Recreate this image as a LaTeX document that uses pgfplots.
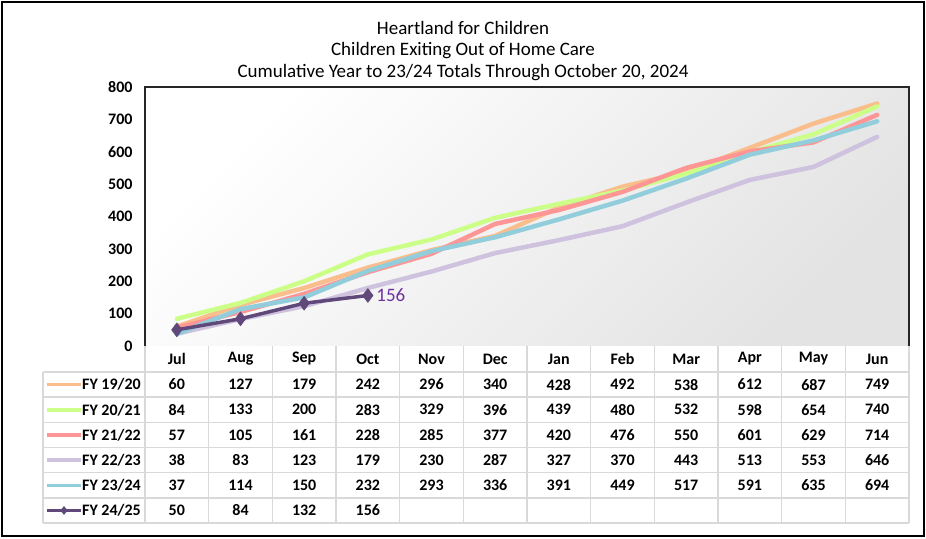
\documentclass[border=0pt]{standalone}
\usepackage{fontspec}
\setmainfont{Carlito}
\usepackage{pgfplots}
\usepackage{pgfplotstable}
\pgfplotsset{compat=1.18}
\definecolor{cA}{RGB}{250,190,140}
\definecolor{cB}{RGB}{204,255,136}
\definecolor{cC}{RGB}{255,150,150}
\definecolor{cD}{RGB}{206,194,222}
\definecolor{cE}{RGB}{146,205,220}
\definecolor{cF}{RGB}{96,73,122}
\definecolor{lab}{RGB}{112,48,160}
\definecolor{grid}{RGB}{217,217,217}
\pgfplotstableread{
m a b c d e
0 60 84 57 38 37
1 127 133 105 83 114
2 179 200 161 123 150
3 242 283 228 179 232
4 296 329 285 230 293
5 340 396 377 287 336
6 428 439 420 327 391
7 492 480 476 370 449
8 538 532 550 443 517
9 612 598 601 513 591
10 687 654 629 553 635
11 749 740 714 646 694
}\hist
\pgfplotstableread{
m f
0 50
1 84
2 132
3 156
}\cur
\newcommand\tfont{\fontsize{16}{19}\selectfont\bfseries}
\begin{document}
\begin{tikzpicture}
\begin{scope}[x=1pt,y=1pt]
\useasboundingbox (0,0) rectangle (926,538);
% title
\node at (463,510) {\fontsize{19}{22}\selectfont Heartland for Children};
\node at (463,487.5) {\fontsize{19}{22}\selectfont Children Exiting Out of Home Care};
\node at (463,465) {\fontsize{19}{22}\selectfont Cumulative Year to 23/24 Totals Through October 20, 2024};
\end{scope}
\begin{axis}[at={(145pt,192pt)}, anchor=south west, width=764pt, height=259pt, scale only axis,
  xmin=-0.5, xmax=11.5, ymin=0, ymax=800, xtick=\empty, ytick={0,100,...,800},
  major tick length=0pt, axis line style={draw=none},
  yticklabel style={font=\tfont, xshift=-9pt},
  /pgf/number format/assume math mode=true,
  axis background/.style={top color=white, bottom color=black!11, shading angle=45},
  every axis plot/.append style={line join=round, line cap=round}]
\addplot[cA, line width=4.5pt, no marks] table[x=m,y=a]{\hist};
\addplot[cB, line width=4.5pt, no marks] table[x=m,y=b]{\hist};
\addplot[cC, line width=4.5pt, no marks] table[x=m,y=c]{\hist};
\addplot[cD, line width=4.5pt, no marks] table[x=m,y=d]{\hist};
\addplot[cE, line width=4.5pt, no marks] table[x=m,y=e]{\hist};
\addplot[cF, line width=3.5pt, mark=diamond*, mark size=7pt, mark options={solid, line width=0.5pt}] table[x=m,y=f]{\cur};
\node[anchor=west, text=lab, font=\fontsize{19}{22}\selectfont, xshift=5pt] at (axis cs:3,156) {156};
\end{axis}
\begin{scope}[x=1pt,y=1pt]
% frame of plot area
\draw[black!85, line width=1.5pt] (145,192) -- (145,451) -- (909,451) -- (909,192);
% data table grid
\foreach \k in {0,...,12} {
  \draw[grid, line width=1.5pt] ({145+\k*63.667},192) -- ({145+\k*63.667},15);
}
\draw[grid, line width=1.5pt] (43,166) -- (43,15);
\foreach \r in {0,...,6} {
  \draw[grid, line width=1.5pt] (43,{166-\r*25.17}) -- (909,{166-\r*25.17});
}
% header
\foreach \n [count=\i from 0] in {Jul,Aug,Sep,Oct,Nov,Dec,Jan,Feb,Mar,Apr,May,Jun} {
  \node[font=\tfont] at ({145+(\i+0.5)*63.667},179) {\n};
}
% rows
\newcommand\row[3]{%
  \foreach \v [count=\i from 0] in {#3} {
    \node[font=\tfont] at ({145+(\i+0.5)*63.667},{166-(#1+0.5)*25.17}) {\v};
  }
  \node[font=\tfont, anchor=east, inner xsep=0pt] at (141,{166-(#1+0.5)*25.17}) {#2};
}
\row{0}{FY 19/20}{60,127,179,242,296,340,428,492,538,612,687,749}
\row{1}{FY 20/21}{84,133,200,283,329,396,439,480,532,598,654,740}
\row{2}{FY 21/22}{57,105,161,228,285,377,420,476,550,601,629,714}
\row{3}{FY 22/23}{38,83,123,179,230,287,327,370,443,513,553,646}
\row{4}{FY 23/24}{37,114,150,232,293,336,391,449,517,591,635,694}
\row{5}{FY 24/25}{50,84,132,156}
% legend keys
\draw[cA, line width=3.5pt] (47,{166-0.5*25.17}) -- (81,{166-0.5*25.17});
\draw[cB, line width=3.5pt] (47,{166-1.5*25.17}) -- (81,{166-1.5*25.17});
\draw[cC, line width=3.5pt] (47,{166-2.5*25.17}) -- (81,{166-2.5*25.17});
\draw[cD, line width=3.5pt] (47,{166-3.5*25.17}) -- (81,{166-3.5*25.17});
\draw[cE, line width=3.5pt] (47,{166-4.5*25.17}) -- (81,{166-4.5*25.17});
\draw[cF, line width=2.5pt] (47,{166-5.5*25.17}) -- (81,{166-5.5*25.17});
\fill[cF] (64,{166-5.5*25.17+4.5}) -- (67.5,{166-5.5*25.17}) -- (64,{166-5.5*25.17-4.5}) -- (60.5,{166-5.5*25.17}) -- cycle;
% outer border
\draw[black, line width=2pt] (2,2) rectangle (924,536);
\end{scope}
\end{tikzpicture}
\end{document}
